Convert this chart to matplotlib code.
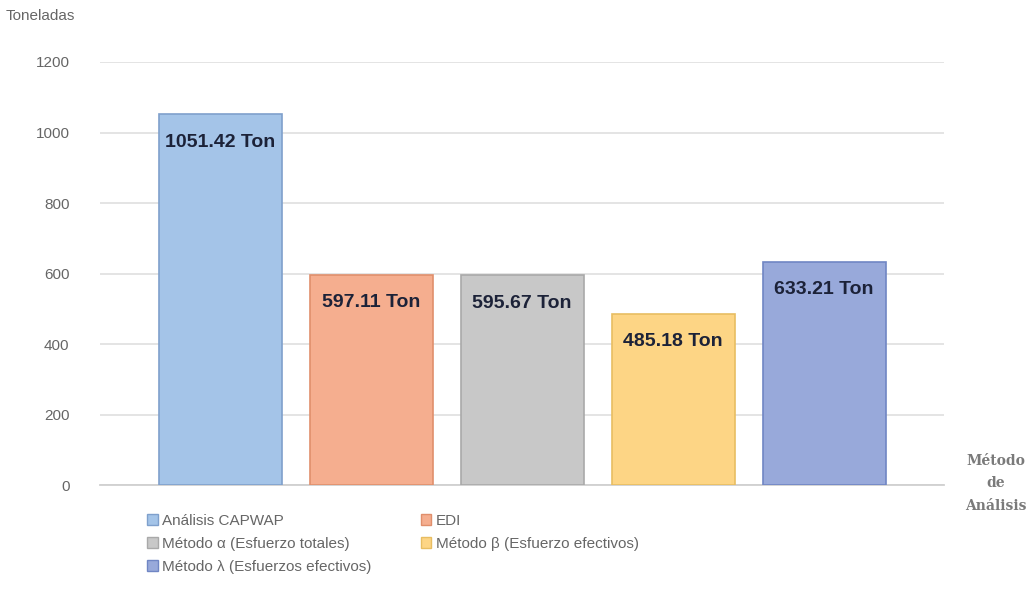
import matplotlib.pyplot as plt
from matplotlib.patches import Patch

metodos = ['Análisis CAPWAP', 'EDI', 'Método α (Esfuerzo totales)',
           'Método β (Esfuerzo efectivos)', 'Método λ (Esfuerzos efectivos)']
toneladas = [1051.42, 597.11, 595.67, 485.18, 633.21]
colores = ['#a4c4e8', '#f5ae8f', '#c8c8c8', '#fdd585', '#98a9da']
bordes = ['#7fa0cc', '#e08f6c', '#a9a9a9', '#e8bd62', '#7086c4']
yticks = [0, 200, 400, 600, 800, 1000, 1200]

plt.rcParams['font.family'] = ['Liberation Sans', 'DejaVu Sans']

fig = plt.figure(figsize=(10.32, 5.99), dpi=100)
ax = fig.add_axes([0.097, 0.19, 0.818, 0.7065])

x = list(range(len(metodos)))
bars = ax.bar(x, toneladas, width=0.815, color=colores, edgecolor=bordes,
              linewidth=1.2, zorder=3)

# etiquetas dentro de cada barra
for b, v in zip(bars, toneladas):
    ax.text(b.get_x() + b.get_width() / 2, v - 55, f'{v:.2f} Ton',
            ha='center', va='top', fontsize=14, fontweight='bold',
            color='#1c2238', zorder=4)

ax.set_xlim(-0.795, 4.795)
ax.set_ylim(0, 1200)
ax.set_yticks(yticks)
ax.set_xticks([])
ax.grid(axis='y', color='#e2e2e2', linewidth=1.3, zorder=0)
for s in ['top', 'right', 'left']:
    ax.spines[s].set_visible(False)
ax.spines['bottom'].set_color('#d0d0d0')
ax.spines['bottom'].set_linewidth(1.3)
ax.tick_params(axis='y', length=0, pad=22, labelsize=11, labelcolor='#666666')

fig.text(0.005, 0.973, 'Toneladas', fontsize=11, color='#666666',
         ha='left', va='center')
fig.text(0.965, 0.193, 'Método\nde\nAnálisis', fontsize=10, color='#7a7a7a',
         ha='center', va='center', family='DejaVu Serif', fontweight='bold',
         linespacing=1.75)

# leyenda en dos columnas, orden por filas
orden = [0, 2, 4, 1, 3]
handles = [Patch(facecolor=colores[i], edgecolor=bordes[i]) for i in orden]
labels = [metodos[i] for i in orden]
fig.legend(handles, labels, ncol=2, loc='upper left',
           bbox_to_anchor=(0.135, 0.155), frameon=False, fontsize=11,
           labelcolor='#666666', handlelength=0.7, handleheight=0.7,
           handletextpad=0.3, columnspacing=3.2, labelspacing=0.6,
           borderpad=0)

fig.savefig('out.png', dpi=100)
